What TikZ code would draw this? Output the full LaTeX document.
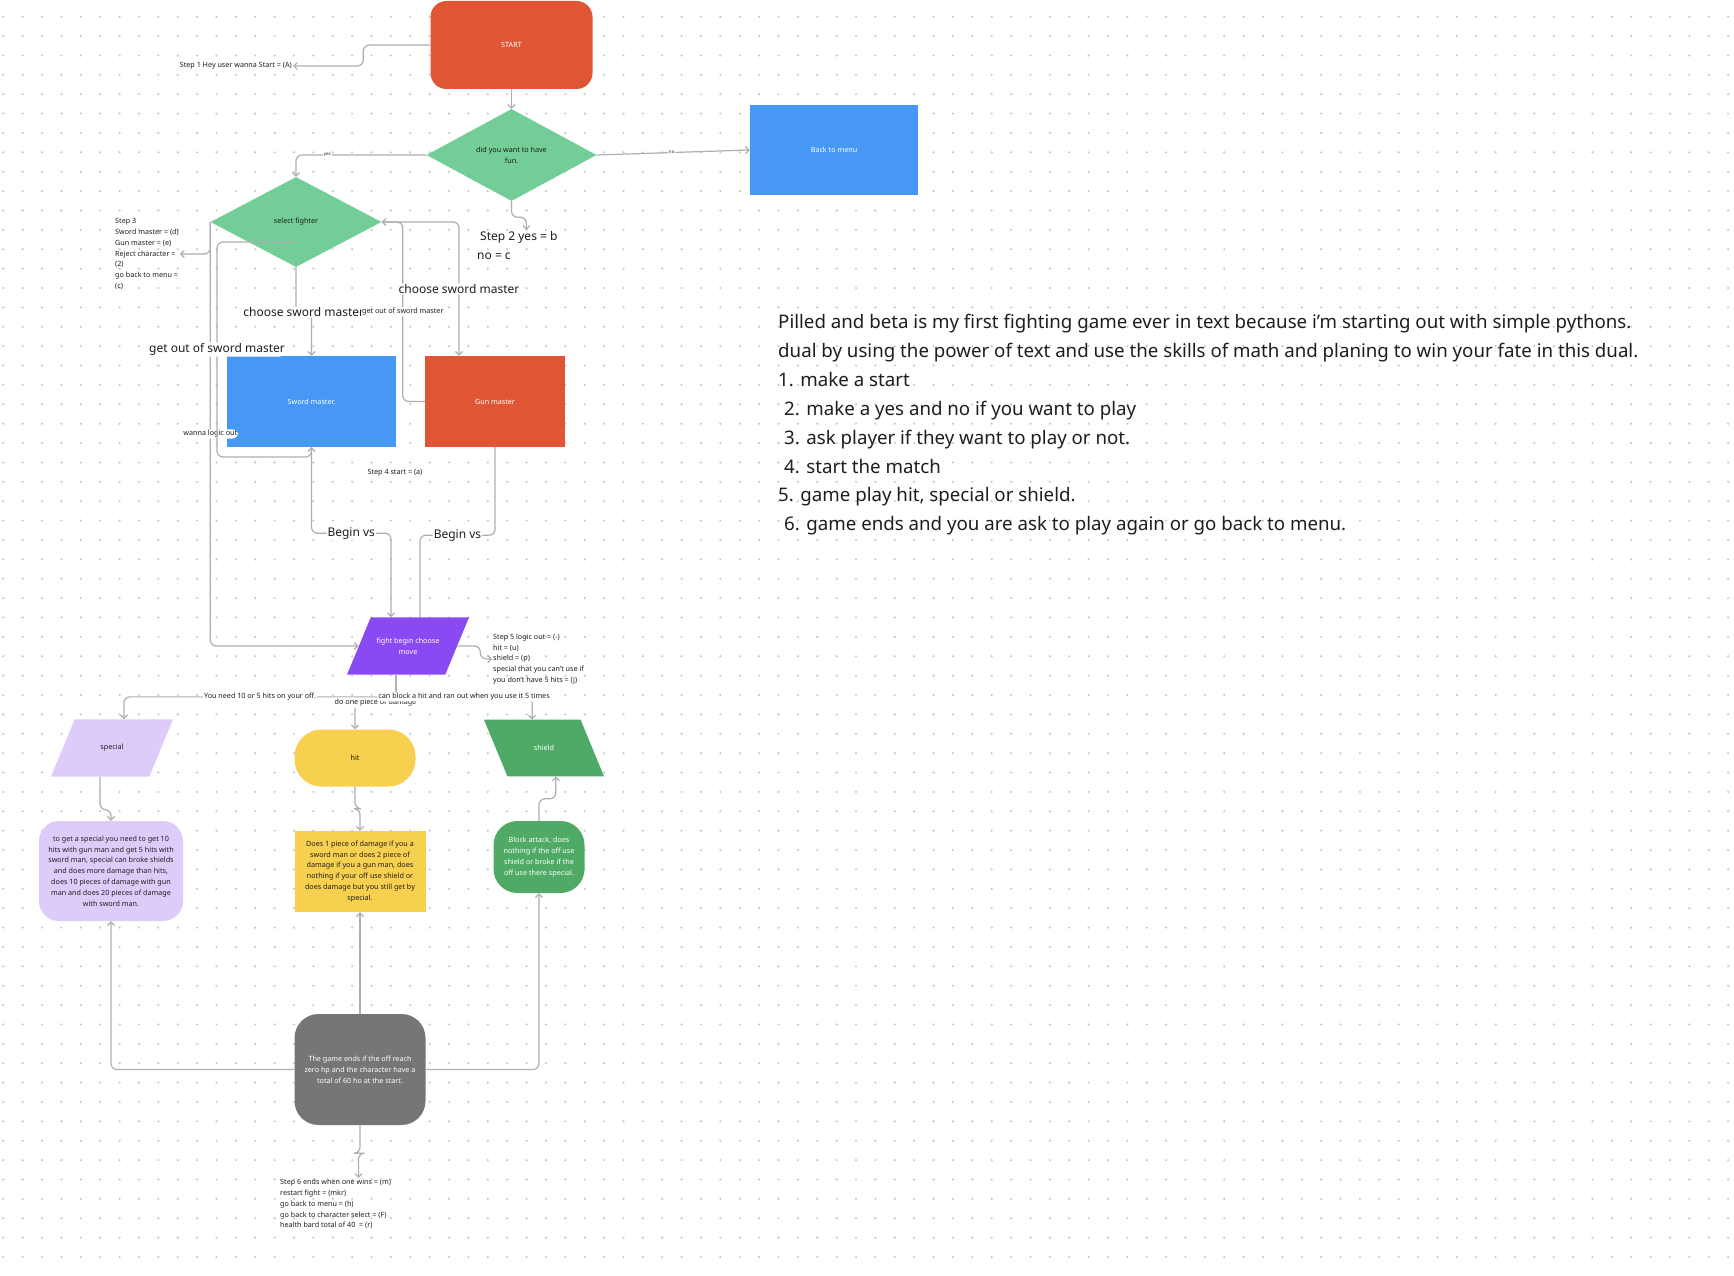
\documentclass[tikz,border=0pt]{standalone}
\usepackage{fontspec}
\setmainfont{Noto Sans}
\usetikzlibrary{shapes.geometric, arrows.meta, positioning, calc}
\definecolor{cStart}{RGB}{224,86,52}
\definecolor{cDiam}{RGB}{115,205,150}
\definecolor{cBlue}{RGB}{71,151,245}
\definecolor{cFight}{RGB}{138,74,243}
\definecolor{cSpecial}{RGB}{221,204,250}
\definecolor{cHit}{RGB}{247,208,80}
\definecolor{cShield}{RGB}{78,170,100}
\definecolor{cEnd}{RGB}{118,118,118}
\definecolor{cLine}{RGB}{175,175,175}
\definecolor{cDot}{RGB}{200,200,200}
\definecolor{cText}{RGB}{30,30,30}

\begin{document}
\begin{tikzpicture}[x=1pt, y=-1pt, font=\fontsize{7.2}{10.8}\selectfont, text=cText,
  box/.style={rectangle, inner sep=2pt, align=center},
  diam/.style={diamond, fill=cDiam, inner sep=0pt, align=center},
  para/.style={trapezium, trapezium stretches body, inner xsep=0pt, align=center},
  note/.style={align=left, inner sep=1pt},
  big/.style={font=\fontsize{12}{19}\selectfont, fill=white, inner sep=1pt},
  tiny/.style={font=\fontsize{4.5}{5}\selectfont, fill=white, inner sep=1pt},
  lab/.style={fill=white, inner sep=1pt},
  arr/.style={draw=cLine, line width=1.2pt, rounded corners=6pt, -{Straight Barb[length=3.5pt, width=7pt]}},
  ln/.style={draw=cLine, line width=1.2pt, rounded corners=6pt}]
  \useasboundingbox (0,0) rectangle (1734,1276);
  \fill[white] (0,0) rectangle (1734,1276);
  % dotted canvas
  \foreach \j in {0,...,64}
    \draw[cDot, line width=2.4pt, line cap=round, dash pattern=on 0pt off 19.38pt] (3.3,16.7+19.38*\j) -- (1734,16.7+19.38*\j);

  % top part
  \node[box, fill=cStart, rounded corners=16pt, minimum width=162pt, minimum height=88pt, text=white] (start) at (511.5,45) {START};
  \node[note, anchor=east] (step1) at (293,66) {Step 1 Hey user wanna Start = (A)};
  \node[diam, minimum width=170pt, minimum height=92pt] (fun) at (511.5,155) {did you want to have\\fun.};
  \node[box, fill=cBlue, minimum width=168pt, minimum height=90pt, text=white] (menu) at (834,150) {Back to menu};
  \node[note, font=\fontsize{12}{19}\selectfont, anchor=north west] (step2) at (476,230) {\hspace*{3pt}Step 2 yes = b\\no = c};
  \node[diam, minimum width=171pt, minimum height=90pt] (sel) at (296,222) {select fighter};
  \node[note, anchor=west] (step3) at (114,254) {Step 3\\Sword master = (d)\\Gun master = (e)\\Reject character =\\(2)\\go back to menu =\\(c)};

  % fighters
  \node[box, fill=cBlue, minimum width=169pt, minimum height=91pt, text=white] (sword) at (311.5,401.5) {Sword master.};
  \node[box, fill=cStart, minimum width=140pt, minimum height=91pt, text=white] (gun) at (495,401.5) {Gun master};
  \node[note] (step4) at (395,473) {Step 4 start = (a)};
  \node[para, fill=cFight, text=white, trapezium left angle=67.5, trapezium right angle=112.5, minimum width=122pt, inner ysep=20.5pt] (fight) at (408,646) {fight begin choose\\move};
  \node[note, anchor=west] (step5) at (492,659) {Step 5 logic out = (-)\\hit = (u)\\shield = (p)\\special that you can't use if\\you don't have 5 hits = (j)};

  % moves
  \node[para, fill=cSpecial, trapezium left angle=67.5, trapezium right angle=112.5, minimum width=122pt, inner ysep=25pt] (special) at (112,748) {special};
  \node[box, fill=cHit, rounded corners=27pt, minimum width=121pt, minimum height=57pt] (hit) at (355,758) {hit};
  \node[para, fill=cShield, text=white, trapezium left angle=112.5, trapezium right angle=67.5, minimum width=120pt, inner ysep=25.5pt] (shield) at (544,748) {shield};
  \node[box, fill=cSpecial, rounded corners=20pt, minimum width=144pt, minimum height=100pt] (spdesc) at (111,871) {to get a special you need to get 10\\hits with gun man and get 5 hits with\\sword man, special can broke shields\\and does more damage than hits,\\does 10 pieces of damage with gun\\man and does 20 pieces of damage\\with sword man.};
  \node[box, fill=cHit, minimum width=131pt, minimum height=81pt] (hitdesc) at (360,871.5) {Does 1 piece of damage if you a\\sword man or does 2 piece of\\damage if you a gun man, does\\nothing if your off use shield or\\does damage but you still get by\\special.};
  \node[box, fill=cShield, text=white, rounded corners=24pt, minimum width=91pt, minimum height=72pt] (shdesc) at (539,857) {Block attack, does\\nothing if the off use\\shield or broke if the\\off use there special.};
  \node[box, fill=cEnd, text=white, rounded corners=24pt, minimum width=131pt, minimum height=111pt] (gend) at (360,1069.5) {The game ends if the off reach\\zero hp and the character have a\\total of 60 ho at the start.};
  \node[note, anchor=north west] (step6) at (279,1178) {Step 6 ends when one wins = (m)\\restart fight = (mkr)\\go back to menu = (h)\\go back to character select = (F)\\health bard total of 40 \ = (r)};

  % intro text
  \node[note, anchor=north west, font=\fontsize{18.7}{28.9}\selectfont] (intro) at (777,313) {Pilled and beta is my first fighting game ever in text because i’m starting out with simple pythons.\\dual by using the power of text and use the skills of math and planing to win your fate in this dual.\\1. make a start\\\hspace*{6pt}2. make a yes and no if you want to play\\\hspace*{6pt}3. ask player if they want to play or not.\\\hspace*{6pt}4. start the match\\5. game play hit, special or shield.\\\hspace*{6pt}6. game ends and you are ask to play again or go back to menu.};

  % connectors
  \coordinate (selin) at (297,242);
  \draw[arr] (start.west) -- ++(-67,0) |- (step1.east);
  \draw[arr] (start.south) -- (fun.north);
  \draw[arr] (fun.west) -| node[tiny, pos=0.38] {yes} (sel.north);
  \draw[arr] (fun.east) -- node[tiny, pos=0.49] {no} (menu.west);
  \draw[arr] (fun.south) -- ++(0,16) -| ($(step2.north)+(9,0)$);
  \draw[arr] (sel.west) |- (step3.east);
  \draw[arr] (sel.west) |- node[lab, pos=0.25] {wanna logic out} (fight.left side);
  \draw[arr] (selin) -- (217,242) -- node[big, pos=0.5] {get out of sword master} (217,457) -| (sword.south);
  \draw[arr] (sel.south) -- ++(0,45) -| node[big, pos=0.25] {choose sword master} (sword.north);
  \draw[arr] (gun.west) -- ++(-22,0) |- node[lab, pos=0.25] {get out of sword master} (sel.east);
  \draw[arr] (sel.east) -| node[big, pos=0.75] {choose sword master} ($(gun.north)+(-36,0)$);
  \draw[arr] (sword.south) -- ++(0,86) -| node[big, pos=0.25] {Begin vs} ($(fight.top side)+(-29,0)$);
  \draw[ln] (gun.south) -- ++(0,88) -| node[big, pos=0.25] {Begin vs} (fight.top side);
  \draw[arr] (fight.right side) -- ++(23,0) |- (step5.west);
  \draw[arr] (fight.bottom side) -- ++(0,22) -| node[lab, pos=0.25] {You need 10 or 5 hits on your off.} (special.top side);
  \draw[arr] (fight.bottom side) -- ++(0,28) -| node[lab, pos=0.25] {do one piece of damage} (hit.north);
  \draw[arr] (fight.bottom side) -- ++(0,22) -| node[lab, pos=0.25] {can block a hit and ran out when you use it 5 times} (shield.top side);
  \draw[arr] (special.bottom side) -- ++(0,33) -| (spdesc.north);
  \draw[arr] (hit.south) -- ++(0,22) -| (hitdesc.north);
  \draw[arr] (shdesc.north) -- ++(0,-22) -| (shield.bottom side);
  \draw[arr] (gend.west) -| (spdesc.south);
  \draw[arr] (gend.north) -- (hitdesc.south);
  \draw[arr] (gend.east) -| (shdesc.south);
  \draw[arr] (gend.south) -- ++(0,28) -| ($(step6.north)+(23,0)$);
\end{tikzpicture}
\end{document}
